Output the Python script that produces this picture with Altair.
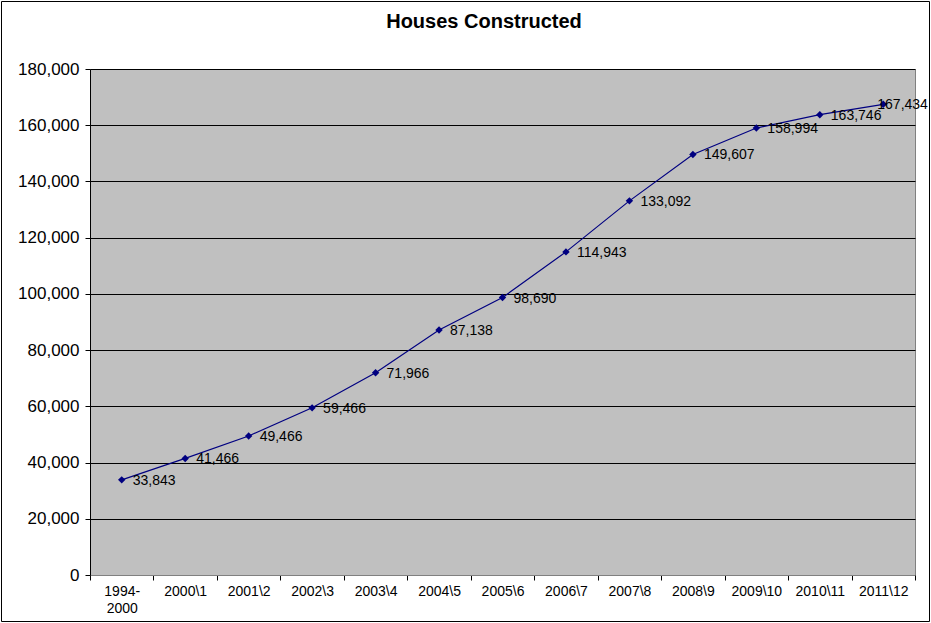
import altair as alt
import pandas as pd

title_text = "Houses Constructed"
periods = ["1994-2000", r"2000\1", r"2001\2", r"2002\3", r"2003\4", r"2004\5", r"2005\6",
           r"2006\7", r"2007\8", r"2008\9", r"2009\10", r"2010\11", r"2011\12"]
houses = [33843, 41466, 49466, 59466, 71966, 87138, 98690, 114943, 133092, 149607,
          158994, 163746, 167434]

df = pd.DataFrame({"period": periods, "houses": houses})
df["lbl"] = df["houses"].map(lambda v: f"{v:,}")
df["last"] = [False] * (len(df) - 1) + [True]

W, H = 825, 506
PL, PT = 90, 69
FONT = "Liberation Sans"

xenc = alt.X("period:N", sort=None, title=None,
             scale=alt.Scale(type="band", paddingInner=0, paddingOuter=0),
             axis=alt.Axis(labelAngle=0, tickBand="extent", grid=False,
                           labelFont=FONT, labelFontSize=14, labelColor="#000000",
                           labelPadding=4, tickSize=5, tickColor="#000000",
                           domainColor="#808080", labelLineHeight=17,
                           labelExpr="datum.label == '1994-2000' ? ['1994-', '2000'] : datum.label"))
yenc = alt.Y("houses:Q", title=None,
             scale=alt.Scale(domain=[0, 180000], nice=False),
             axis=alt.Axis(values=list(range(0, 180001, 20000)), format=",d",
                           labelFont=FONT, labelFontSize=17, labelColor="#000000",
                           tickSize=5, tickColor="#000000", labelPadding=6,
                           domainColor="#000000", gridColor="#000000", gridWidth=1,
                           gridOpacity=1))

base = alt.Chart(df)

line = base.mark_line(color="#000080", strokeWidth=1.2).encode(x=xenc, y=yenc)
pts = base.mark_point(shape="diamond", filled=True, size=55, color="#000080", opacity=1).encode(
    x=alt.X("period:N", sort=None), y="houses:Q")
labels = base.transform_filter("!datum.last").mark_text(
    align="left", baseline="middle", dx=11, dy=1, font=FONT,
    fontSize=14, color="#000000", clip=False).encode(
    x=alt.X("period:N", sort=None), y="houses:Q", text="lbl:N")
last_label = base.transform_filter("datum.last").mark_text(
    align="left", baseline="middle", dx=-6, dy=1, font=FONT,
    fontSize=14, color="#000000", clip=False).encode(
    x=alt.X("period:N", sort=None), y="houses:Q", text="lbl:N")

one = pd.DataFrame({"t": [title_text]})
border = alt.Chart(one).mark_rect(
    fill=None, stroke="#000000", strokeWidth=1, clip=False).encode(
    x=alt.value(-PL + 1.5), x2=alt.value(931 - PL - 1.5),
    y=alt.value(-PT + 1.5), y2=alt.value(623 - PT - 1.5))
title = alt.Chart(one).mark_text(
    font=FONT, fontSize=20, fontWeight="bold", color="#000000",
    align="center", baseline="middle", clip=False).encode(
    text="t:N", x=alt.value(484 - PL), y=alt.value(-PT + 22))

chart = alt.layer(line, pts, labels, last_label, border, title).properties(
    width=W, height=H,
    autosize=alt.AutoSizeParams(type="none"),
    padding={"left": PL, "top": PT, "right": 931 - PL - W, "bottom": 623 - PT - H},
    background="#ffffff",
).configure_view(fill="#C0C0C0", stroke="#808080", strokeWidth=1)

chart.save("out.html", embed_options={"renderer": "svg", "actions": False})
